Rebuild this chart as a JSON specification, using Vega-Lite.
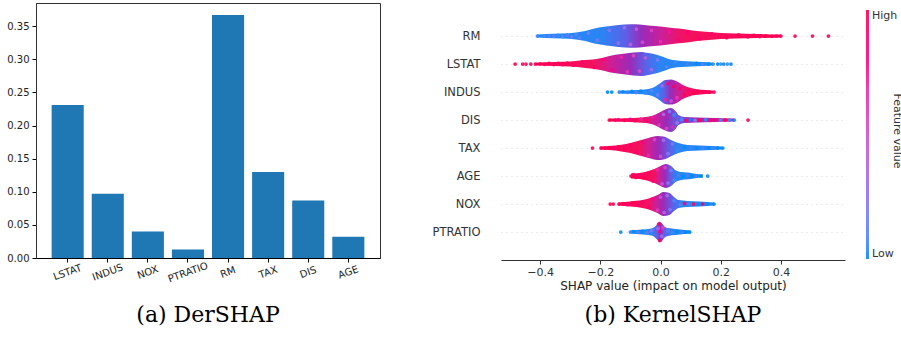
{
"$schema": "https://vega.github.io/schema/vega-lite/v6.json",
"background": "white",
"padding": {"left": 6, "top": 2, "right": 0, "bottom": 0},
"config": {
  "font": "DejaVu Sans",
  "axis": {"labelFont": "DejaVu Sans", "titleFont": "DejaVu Sans", "titleFontWeight": "normal"},
  "title": {"font": "DejaVu Serif", "fontSize": 22, "fontWeight": "normal", "color": "#000"},
  "concat": {"spacing": 51},
  "legend": {"labelFont": "DejaVu Sans", "titleFont": "DejaVu Sans"}
},
"datasets": {
  "bars": [
    {"feature": "LSTAT", "value": 0.231},
    {"feature": "INDUS", "value": 0.097},
    {"feature": "NOX", "value": 0.040},
    {"feature": "PTRATIO", "value": 0.013},
    {"feature": "RM", "value": 0.367},
    {"feature": "TAX", "value": 0.130},
    {"feature": "DIS", "value": 0.087},
    {"feature": "AGE", "value": 0.032}
  ],
  "area": [
    {"f":"RM","x":-0.41,"y":6.946,"y2":7.054},{"f":"RM","x":-0.38,"y":6.929,"y2":7.071},{"f":"RM","x":-0.33,"y":6.911,"y2":7.089},{"f":"RM","x":-0.28,"y":6.875,"y2":7.125},{"f":"RM","x":-0.25,"y":6.821,"y2":7.179},{"f":"RM","x":-0.22,"y":6.732,"y2":7.268},{"f":"RM","x":-0.18,"y":6.661,"y2":7.339},{"f":"RM","x":-0.14,"y":6.607,"y2":7.393},{"f":"RM","x":-0.10,"y":6.579,"y2":7.421},{"f":"RM","x":-0.07,"y":6.589,"y2":7.411},{"f":"RM","x":-0.04,"y":6.625,"y2":7.375},{"f":"RM","x":0.0,"y":6.661,"y2":7.339},{"f":"RM","x":0.04,"y":6.714,"y2":7.286},{"f":"RM","x":0.08,"y":6.757,"y2":7.243},{"f":"RM","x":0.12,"y":6.821,"y2":7.179},{"f":"RM","x":0.16,"y":6.857,"y2":7.143},{"f":"RM","x":0.20,"y":6.893,"y2":7.107},{"f":"RM","x":0.25,"y":6.911,"y2":7.089},{"f":"RM","x":0.32,"y":6.929,"y2":7.071},{"f":"RM","x":0.40,"y":6.946,"y2":7.054},
    {"f":"LSTAT","x":-0.416,"y":5.95,"y2":6.05},{"f":"LSTAT","x":-0.35,"y":5.93,"y2":6.07},{"f":"LSTAT","x":-0.30,"y":5.91,"y2":6.09},{"f":"LSTAT","x":-0.25,"y":5.86,"y2":6.14},{"f":"LSTAT","x":-0.20,"y":5.79,"y2":6.21},{"f":"LSTAT","x":-0.17,"y":5.71,"y2":6.29},{"f":"LSTAT","x":-0.13,"y":5.64,"y2":6.36},{"f":"LSTAT","x":-0.09,"y":5.59,"y2":6.41},{"f":"LSTAT","x":-0.065,"y":5.57,"y2":6.43},{"f":"LSTAT","x":-0.04,"y":5.61,"y2":6.39},{"f":"LSTAT","x":-0.01,"y":5.68,"y2":6.32},{"f":"LSTAT","x":0.02,"y":5.79,"y2":6.21},{"f":"LSTAT","x":0.04,"y":5.86,"y2":6.14},{"f":"LSTAT","x":0.07,"y":5.89,"y2":6.11},{"f":"LSTAT","x":0.10,"y":5.91,"y2":6.09},{"f":"LSTAT","x":0.14,"y":5.93,"y2":6.07},{"f":"LSTAT","x":0.175,"y":5.95,"y2":6.05},
    {"f":"INDUS","x":-0.14,"y":4.95,"y2":5.05},{"f":"INDUS","x":-0.08,"y":4.93,"y2":5.07},{"f":"INDUS","x":-0.04,"y":4.89,"y2":5.11},{"f":"INDUS","x":-0.02,"y":4.82,"y2":5.18},{"f":"INDUS","x":0.0,"y":4.68,"y2":5.32},{"f":"INDUS","x":0.015,"y":4.57,"y2":5.43},{"f":"INDUS","x":0.035,"y":4.55,"y2":5.45},{"f":"INDUS","x":0.055,"y":4.62,"y2":5.38},{"f":"INDUS","x":0.075,"y":4.75,"y2":5.25},{"f":"INDUS","x":0.095,"y":4.84,"y2":5.16},{"f":"INDUS","x":0.115,"y":4.89,"y2":5.11},{"f":"INDUS","x":0.15,"y":4.93,"y2":5.07},{"f":"INDUS","x":0.175,"y":4.95,"y2":5.05},
    {"f":"DIS","x":-0.17,"y":3.95,"y2":4.05},{"f":"DIS","x":-0.10,"y":3.93,"y2":4.07},{"f":"DIS","x":-0.05,"y":3.89,"y2":4.11},{"f":"DIS","x":-0.02,"y":3.82,"y2":4.18},{"f":"DIS","x":0.0,"y":3.71,"y2":4.29},{"f":"DIS","x":0.02,"y":3.61,"y2":4.39},{"f":"DIS","x":0.035,"y":3.57,"y2":4.43},{"f":"DIS","x":0.05,"y":3.68,"y2":4.32},{"f":"DIS","x":0.06,"y":3.82,"y2":4.18},{"f":"DIS","x":0.08,"y":3.89,"y2":4.11},{"f":"DIS","x":0.12,"y":3.91,"y2":4.09},{"f":"DIS","x":0.18,"y":3.93,"y2":4.07},{"f":"DIS","x":0.245,"y":3.95,"y2":4.05},
    {"f":"TAX","x":-0.20,"y":2.95,"y2":3.05},{"f":"TAX","x":-0.17,"y":2.93,"y2":3.07},{"f":"TAX","x":-0.13,"y":2.88,"y2":3.12},{"f":"TAX","x":-0.10,"y":2.82,"y2":3.18},{"f":"TAX","x":-0.07,"y":2.73,"y2":3.27},{"f":"TAX","x":-0.04,"y":2.64,"y2":3.36},{"f":"TAX","x":-0.01,"y":2.57,"y2":3.43},{"f":"TAX","x":0.01,"y":2.59,"y2":3.41},{"f":"TAX","x":0.035,"y":2.71,"y2":3.29},{"f":"TAX","x":0.06,"y":2.82,"y2":3.18},{"f":"TAX","x":0.09,"y":2.89,"y2":3.11},{"f":"TAX","x":0.13,"y":2.91,"y2":3.09},{"f":"TAX","x":0.17,"y":2.93,"y2":3.07},{"f":"TAX","x":0.205,"y":2.95,"y2":3.05},
    {"f":"AGE","x":-0.098,"y":1.91,"y2":2.09},{"f":"AGE","x":-0.07,"y":1.89,"y2":2.11},{"f":"AGE","x":-0.04,"y":1.82,"y2":2.18},{"f":"AGE","x":-0.02,"y":1.75,"y2":2.25},{"f":"AGE","x":0.0,"y":1.64,"y2":2.36},{"f":"AGE","x":0.018,"y":1.57,"y2":2.43},{"f":"AGE","x":0.035,"y":1.64,"y2":2.36},{"f":"AGE","x":0.05,"y":1.79,"y2":2.21},{"f":"AGE","x":0.07,"y":1.86,"y2":2.14},{"f":"AGE","x":0.10,"y":1.89,"y2":2.11},{"f":"AGE","x":0.12,"y":1.93,"y2":2.07},{"f":"AGE","x":0.14,"y":1.95,"y2":2.05},
    {"f":"NOX","x":-0.14,"y":0.95,"y2":1.05},{"f":"NOX","x":-0.10,"y":0.91,"y2":1.09},{"f":"NOX","x":-0.06,"y":0.86,"y2":1.14},{"f":"NOX","x":-0.03,"y":0.77,"y2":1.23},{"f":"NOX","x":-0.01,"y":0.68,"y2":1.32},{"f":"NOX","x":0.01,"y":0.57,"y2":1.43},{"f":"NOX","x":0.03,"y":0.61,"y2":1.39},{"f":"NOX","x":0.045,"y":0.75,"y2":1.25},{"f":"NOX","x":0.06,"y":0.86,"y2":1.14},{"f":"NOX","x":0.09,"y":0.89,"y2":1.11},{"f":"NOX","x":0.13,"y":0.91,"y2":1.09},{"f":"NOX","x":0.178,"y":0.95,"y2":1.05},
    {"f":"PTRATIO","x":-0.10,"y":-0.05,"y2":0.05},{"f":"PTRATIO","x":-0.06,"y":-0.09,"y2":0.09},{"f":"PTRATIO","x":-0.035,"y":-0.12,"y2":0.12},{"f":"PTRATIO","x":-0.02,"y":-0.18,"y2":0.18},{"f":"PTRATIO","x":-0.01,"y":-0.29,"y2":0.29},{"f":"PTRATIO","x":-0.004,"y":-0.37,"y2":0.37},{"f":"PTRATIO","x":0.004,"y":-0.32,"y2":0.32},{"f":"PTRATIO","x":0.012,"y":-0.21,"y2":0.21},{"f":"PTRATIO","x":0.025,"y":-0.14,"y2":0.14},{"f":"PTRATIO","x":0.05,"y":-0.11,"y2":0.11},{"f":"PTRATIO","x":0.08,"y":-0.07,"y2":0.07},{"f":"PTRATIO","x":0.10,"y":-0.05,"y2":0.05}
  ],
  "pts": [
    {"f":"RM","x":-0.409,"y":7.0,"v":0.05},{"f":"RM","x":-0.386,"y":7.0,"v":0.1},{"f":"RM","x":-0.37,"y":7.01,"v":0.08},{"f":"RM","x":-0.355,"y":6.99,"v":0.1},{"f":"RM","x":-0.34,"y":7.02,"v":0.05},{"f":"RM","x":-0.325,"y":6.98,"v":0.12},{"f":"RM","x":-0.31,"y":7.03,"v":0.1},{"f":"RM","x":-0.295,"y":6.97,"v":0.15},{"f":"RM","x":-0.28,"y":7.05,"v":0.1},{"f":"RM","x":-0.27,"y":6.93,"v":0.12},
    {"f":"RM","x":-0.24,"y":7.1,"v":0.15},{"f":"RM","x":-0.21,"y":6.85,"v":0.18},{"f":"RM","x":-0.17,"y":7.2,"v":0.2},{"f":"RM","x":-0.14,"y":6.75,"v":0.28},{"f":"RM","x":-0.12,"y":7.3,"v":0.3},{"f":"RM","x":-0.1,"y":6.7,"v":0.4},{"f":"RM","x":-0.08,"y":7.25,"v":0.45},{"f":"RM","x":-0.06,"y":6.78,"v":0.5},{"f":"RM","x":-0.03,"y":7.2,"v":0.58},{"f":"RM","x":0.0,"y":6.8,"v":0.65},{"f":"RM","x":0.03,"y":7.15,"v":0.75},{"f":"RM","x":0.06,"y":6.85,"v":0.82},{"f":"RM","x":0.09,"y":7.12,"v":0.88},{"f":"RM","x":0.13,"y":6.9,"v":0.92},{"f":"RM","x":0.17,"y":7.08,"v":0.95},{"f":"RM","x":0.22,"y":6.94,"v":0.97},
    {"f":"RM","x":0.26,"y":7.04,"v":1},{"f":"RM","x":0.29,"y":6.97,"v":0.97},{"f":"RM","x":0.31,"y":7.02,"v":1},{"f":"RM","x":0.33,"y":6.98,"v":0.95},{"f":"RM","x":0.35,"y":7.01,"v":1},{"f":"RM","x":0.37,"y":6.99,"v":0.98},{"f":"RM","x":0.385,"y":7.0,"v":1},{"f":"RM","x":0.4,"y":7.0,"v":1},{"f":"RM","x":0.447,"y":7.0,"v":1},{"f":"RM","x":0.505,"y":7.0,"v":1},{"f":"RM","x":0.558,"y":7.0,"v":1},
    {"f":"LSTAT","x":-0.483,"y":6,"v":1},{"f":"LSTAT","x":-0.458,"y":6,"v":1},{"f":"LSTAT","x":-0.447,"y":6,"v":0.95},{"f":"LSTAT","x":-0.431,"y":6,"v":1},{"f":"LSTAT","x":-0.416,"y":6,"v":0.95},{"f":"LSTAT","x":-0.4,"y":6.01,"v":1},{"f":"LSTAT","x":-0.385,"y":5.99,"v":0.97},{"f":"LSTAT","x":-0.37,"y":6.02,"v":1},{"f":"LSTAT","x":-0.355,"y":5.98,"v":0.95},{"f":"LSTAT","x":-0.34,"y":6.02,"v":1},{"f":"LSTAT","x":-0.325,"y":5.98,"v":0.92},{"f":"LSTAT","x":-0.31,"y":6.03,"v":1},{"f":"LSTAT","x":-0.29,"y":5.96,"v":0.95},
    {"f":"LSTAT","x":-0.26,"y":6.08,"v":0.9},{"f":"LSTAT","x":-0.22,"y":5.88,"v":0.92},{"f":"LSTAT","x":-0.19,"y":6.15,"v":0.85},{"f":"LSTAT","x":-0.16,"y":5.78,"v":0.8},{"f":"LSTAT","x":-0.13,"y":6.25,"v":0.7},{"f":"LSTAT","x":-0.11,"y":5.72,"v":0.62},{"f":"LSTAT","x":-0.09,"y":6.3,"v":0.55},{"f":"LSTAT","x":-0.07,"y":5.75,"v":0.5},{"f":"LSTAT","x":-0.05,"y":6.22,"v":0.4},{"f":"LSTAT","x":-0.03,"y":5.8,"v":0.3},{"f":"LSTAT","x":-0.01,"y":6.15,"v":0.2},{"f":"LSTAT","x":0.02,"y":5.9,"v":0.1},{"f":"LSTAT","x":0.05,"y":6.06,"v":0.05},
    {"f":"LSTAT","x":0.09,"y":5.98,"v":0.05},{"f":"LSTAT","x":0.12,"y":6.02,"v":0},{"f":"LSTAT","x":0.14,"y":6,"v":0.1},{"f":"LSTAT","x":0.16,"y":6,"v":0},{"f":"LSTAT","x":0.175,"y":6,"v":0.05},{"f":"LSTAT","x":0.19,"y":6,"v":0},{"f":"LSTAT","x":0.2,"y":6,"v":0.05},{"f":"LSTAT","x":0.21,"y":6,"v":0},{"f":"LSTAT","x":0.222,"y":6,"v":0.05},{"f":"LSTAT","x":0.234,"y":6,"v":0},
    {"f":"INDUS","x":-0.176,"y":5,"v":0},{"f":"INDUS","x":-0.162,"y":5,"v":0},{"f":"INDUS","x":-0.137,"y":5,"v":0.05},{"f":"INDUS","x":-0.125,"y":5.01,"v":0},{"f":"INDUS","x":-0.11,"y":4.99,"v":0.05},{"f":"INDUS","x":-0.095,"y":5.02,"v":0},{"f":"INDUS","x":-0.08,"y":4.98,"v":0.1},{"f":"INDUS","x":-0.065,"y":5.03,"v":0},{"f":"INDUS","x":-0.05,"y":4.97,"v":0.05},{"f":"INDUS","x":-0.03,"y":5.06,"v":0.1},
    {"f":"INDUS","x":-0.01,"y":4.9,"v":0.15},{"f":"INDUS","x":0.005,"y":5.22,"v":0.35},{"f":"INDUS","x":0.015,"y":4.72,"v":0.7},{"f":"INDUS","x":0.025,"y":5.3,"v":0.85},{"f":"INDUS","x":0.035,"y":4.68,"v":0.5},{"f":"INDUS","x":0.045,"y":5.2,"v":0.95},{"f":"INDUS","x":0.055,"y":4.8,"v":0.6},{"f":"INDUS","x":0.065,"y":5.12,"v":0.9},{"f":"INDUS","x":0.08,"y":4.9,"v":0.95},{"f":"INDUS","x":0.095,"y":5.05,"v":0.85},
    {"f":"INDUS","x":0.11,"y":4.97,"v":1},{"f":"INDUS","x":0.125,"y":5.02,"v":0.95},{"f":"INDUS","x":0.14,"y":5,"v":1},{"f":"INDUS","x":0.152,"y":5,"v":0.9},{"f":"INDUS","x":0.163,"y":5,"v":1},{"f":"INDUS","x":0.178,"y":5,"v":0.95},
    {"f":"DIS","x":-0.17,"y":4,"v":1},{"f":"DIS","x":-0.15,"y":4,"v":0.95},{"f":"DIS","x":-0.14,"y":4.01,"v":0.85},{"f":"DIS","x":-0.12,"y":3.99,"v":1},{"f":"DIS","x":-0.1,"y":4.02,"v":0.8},{"f":"DIS","x":-0.085,"y":3.98,"v":0.95},{"f":"DIS","x":-0.065,"y":4.03,"v":0.7},{"f":"DIS","x":-0.045,"y":3.96,"v":0.9},{"f":"DIS","x":-0.025,"y":4.08,"v":0.75},
    {"f":"DIS","x":-0.005,"y":3.82,"v":0.6},{"f":"DIS","x":0.01,"y":4.2,"v":0.4},{"f":"DIS","x":0.02,"y":3.7,"v":0.55},{"f":"DIS","x":0.03,"y":4.3,"v":0.2},{"f":"DIS","x":0.04,"y":3.75,"v":0.7},{"f":"DIS","x":0.045,"y":4.18,"v":0.05},{"f":"DIS","x":0.055,"y":3.9,"v":0.3},
    {"f":"DIS","x":0.07,"y":4.02,"v":0.1},{"f":"DIS","x":0.085,"y":3.98,"v":0.9},{"f":"DIS","x":0.1,"y":4.01,"v":0},{"f":"DIS","x":0.115,"y":3.99,"v":0.2},{"f":"DIS","x":0.13,"y":4,"v":1},{"f":"DIS","x":0.15,"y":4.01,"v":0.05},{"f":"DIS","x":0.165,"y":3.99,"v":0.9},{"f":"DIS","x":0.18,"y":4,"v":0.95},{"f":"DIS","x":0.2,"y":4,"v":0.1},{"f":"DIS","x":0.215,"y":4,"v":1},{"f":"DIS","x":0.23,"y":4,"v":0.05},{"f":"DIS","x":0.245,"y":4,"v":0},{"f":"DIS","x":0.291,"y":4,"v":1},
    {"f":"TAX","x":-0.226,"y":3,"v":1},{"f":"TAX","x":-0.198,"y":3,"v":1},{"f":"TAX","x":-0.185,"y":3,"v":0.95},{"f":"TAX","x":-0.17,"y":3.01,"v":1},{"f":"TAX","x":-0.155,"y":2.99,"v":0.9},{"f":"TAX","x":-0.14,"y":3.02,"v":1},{"f":"TAX","x":-0.12,"y":2.97,"v":0.95},
    {"f":"TAX","x":-0.1,"y":3.1,"v":0.92},{"f":"TAX","x":-0.08,"y":2.85,"v":0.88},{"f":"TAX","x":-0.06,"y":3.2,"v":0.8},{"f":"TAX","x":-0.04,"y":2.74,"v":0.7},{"f":"TAX","x":-0.02,"y":3.3,"v":0.55},{"f":"TAX","x":0.0,"y":2.7,"v":0.5},{"f":"TAX","x":0.01,"y":3.28,"v":0.3},{"f":"TAX","x":0.025,"y":2.8,"v":0.25},{"f":"TAX","x":0.04,"y":3.15,"v":0.15},{"f":"TAX","x":0.055,"y":2.9,"v":0.05},
    {"f":"TAX","x":0.08,"y":3.03,"v":0},{"f":"TAX","x":0.1,"y":2.98,"v":0.05},{"f":"TAX","x":0.12,"y":3,"v":0},{"f":"TAX","x":0.14,"y":3,"v":0.05},{"f":"TAX","x":0.16,"y":3,"v":0},{"f":"TAX","x":0.175,"y":3,"v":0.05},{"f":"TAX","x":0.19,"y":3,"v":0},{"f":"TAX","x":0.207,"y":3,"v":0},
    {"f":"AGE","x":-0.098,"y":2,"v":1},{"f":"AGE","x":-0.09,"y":2.05,"v":0.95},{"f":"AGE","x":-0.082,"y":1.95,"v":1},{"f":"AGE","x":-0.07,"y":2.03,"v":0.9},{"f":"AGE","x":-0.055,"y":1.93,"v":1},
    {"f":"AGE","x":-0.04,"y":2.1,"v":0.92},{"f":"AGE","x":-0.025,"y":1.82,"v":0.85},{"f":"AGE","x":-0.01,"y":2.22,"v":0.7},{"f":"AGE","x":0.005,"y":1.72,"v":0.45},{"f":"AGE","x":0.015,"y":2.3,"v":0.55},{"f":"AGE","x":0.025,"y":1.75,"v":0.25},{"f":"AGE","x":0.035,"y":2.2,"v":0.15},{"f":"AGE","x":0.045,"y":1.85,"v":0.1},
    {"f":"AGE","x":0.06,"y":2.04,"v":0.05},{"f":"AGE","x":0.075,"y":1.97,"v":0},{"f":"AGE","x":0.09,"y":2.02,"v":0.05},{"f":"AGE","x":0.105,"y":2,"v":0},{"f":"AGE","x":0.12,"y":2,"v":0.05},{"f":"AGE","x":0.135,"y":2,"v":0},{"f":"AGE","x":0.157,"y":2,"v":0},
    {"f":"NOX","x":-0.167,"y":1,"v":1},{"f":"NOX","x":-0.157,"y":1,"v":1},{"f":"NOX","x":-0.138,"y":1,"v":0.95},{"f":"NOX","x":-0.125,"y":1.01,"v":1},{"f":"NOX","x":-0.11,"y":0.98,"v":0.9},{"f":"NOX","x":-0.095,"y":1.03,"v":1},{"f":"NOX","x":-0.08,"y":0.96,"v":0.95},{"f":"NOX","x":-0.06,"y":1.06,"v":0.9},
    {"f":"NOX","x":-0.04,"y":0.9,"v":0.9},{"f":"NOX","x":-0.025,"y":1.18,"v":0.8},{"f":"NOX","x":-0.01,"y":0.78,"v":0.6},{"f":"NOX","x":0.0,"y":1.25,"v":0.5},{"f":"NOX","x":0.012,"y":0.7,"v":0.4},{"f":"NOX","x":0.022,"y":1.3,"v":0.3},{"f":"NOX","x":0.032,"y":0.8,"v":0.2},{"f":"NOX","x":0.045,"y":1.12,"v":0.1},
    {"f":"NOX","x":0.065,"y":0.98,"v":0.1},{"f":"NOX","x":0.08,"y":1.02,"v":0.9},{"f":"NOX","x":0.095,"y":1,"v":0.05},{"f":"NOX","x":0.11,"y":1,"v":0.95},{"f":"NOX","x":0.125,"y":1,"v":0},{"f":"NOX","x":0.14,"y":1,"v":0.9},{"f":"NOX","x":0.155,"y":1,"v":0},{"f":"NOX","x":0.178,"y":1,"v":0},
    {"f":"PTRATIO","x":-0.132,"y":0,"v":0},{"f":"PTRATIO","x":-0.1,"y":0,"v":0.05},{"f":"PTRATIO","x":-0.09,"y":0.01,"v":0},{"f":"PTRATIO","x":-0.075,"y":-0.01,"v":0.1},{"f":"PTRATIO","x":-0.06,"y":0.02,"v":0},{"f":"PTRATIO","x":-0.045,"y":-0.03,"v":0.1},{"f":"PTRATIO","x":-0.03,"y":0.05,"v":0.2},
    {"f":"PTRATIO","x":-0.006,"y":0.28,"v":0.9},{"f":"PTRATIO","x":-0.002,"y":-0.3,"v":0.95},{"f":"PTRATIO","x":-0.008,"y":0.12,"v":0.4},{"f":"PTRATIO","x":0.004,"y":-0.15,"v":0.3},{"f":"PTRATIO","x":-0.002,"y":0.02,"v":0.8},{"f":"PTRATIO","x":0.008,"y":0.15,"v":0.6},
    {"f":"PTRATIO","x":0.025,"y":0.04,"v":0.1},{"f":"PTRATIO","x":0.04,"y":-0.02,"v":0.05},{"f":"PTRATIO","x":0.055,"y":0.01,"v":0},{"f":"PTRATIO","x":0.07,"y":0,"v":0.05},{"f":"PTRATIO","x":0.085,"y":0,"v":0},{"f":"PTRATIO","x":0.097,"y":0,"v":0}
  ]
},
"hconcat": [
  {
    "width": 344,
    "height": 255,
    "view": {"stroke": "#333", "strokeWidth": 1},
    "title": {"text": "(a) DerSHAP", "orient": "bottom", "offset": 21, "anchor": "middle", "frame": "group"},
    "data": {"name": "bars"},
    "mark": {"type": "bar", "color": "#1f77b4"},
    "encoding": {
      "x": {"field": "feature", "type": "nominal", "sort": null,
        "scale": {"paddingInner": 0.2, "paddingOuter": 0.39},
        "axis": {"title": null, "labelAngle": -20, "labelAlign": "center", "labelBaseline": "middle", "labelPadding": 10, "labelFontSize": 10, "labelColor": "#222", "tickColor": "#000", "tickSize": 4, "domainColor": "#000"}},
      "y": {"field": "value", "type": "quantitative",
        "scale": {"domain": [0, 0.385], "nice": false},
        "axis": {"title": null, "values": [0, 0.05, 0.1, 0.15, 0.2, 0.25, 0.3, 0.35], "format": ".2f", "grid": false, "labelFontSize": 10, "labelColor": "#222", "tickColor": "#000", "tickSize": 4, "labelPadding": 3, "domainColor": "#333"}}
    }
  },
  {
    "width": 344,
    "height": 257,
    "view": {"stroke": null},
    "title": {"text": "(b) KernelSHAP", "orient": "bottom", "offset": 14, "anchor": "middle", "frame": "group"},
    "encoding": {
      "x": {"field": "x", "type": "quantitative",
        "scale": {"domain": [-0.53, 0.613], "nice": false, "zero": false},
        "axis": {"title": "SHAP value (impact on model output)", "values": [-0.4, -0.2, 0, 0.2, 0.4], "labelExpr": "replace(format(datum.value, '.1f'), '-', '−')", "grid": false, "labelFontSize": 11, "labelColor": "#333", "titleFontSize": 12, "titleColor": "#222", "titlePadding": 3, "tickColor": "#333", "tickSize": 4, "labelPadding": 2, "domainColor": "#333"}},
      "y": {"field": "y", "type": "quantitative",
        "scale": {"domain": [-1, 8.18], "nice": false, "zero": false},
        "axis": {"title": null, "values": [0, 1, 2, 3, 4, 5, 6, 7], "labelExpr": "['PTRATIO','NOX','AGE','TAX','DIS','INDUS','LSTAT','RM'][datum.value]", "domain": false, "ticks": false, "labelPadding": 21, "labelFontSize": 11.5, "labelColor": "#333", "grid": true, "gridColor": "#cccccc", "gridDash": [1, 4], "gridWidth": 0.8}}
    },
    "layer": [
      {"data": {"values": [{"k": 1}]}, "mark": {"type": "rule", "color": "#999999", "strokeWidth": 1},
       "encoding": {"x": {"datum": 0, "type": "quantitative"}, "y": {"datum": -1, "type": "quantitative"}, "y2": {"datum": 8}}},
      {"data": {"name": "area"}, "transform": [{"filter": "datum.f === 'RM'"}],
       "mark": {"type": "area", "orient": "vertical", "interpolate": "monotone", "color": {"gradient": "linear", "x1": 0, "y1": 0, "x2": 1, "y2": 0, "stops": [{"offset": 0, "color": "#1f88f6"}, {"offset": 0.26, "color": "#2a85f4"}, {"offset": 0.36, "color": "#5b62e8"}, {"offset": 0.43, "color": "#9a2bb8"}, {"offset": 0.51, "color": "#cc1f98"}, {"offset": 0.6, "color": "#f2125f"}, {"offset": 1, "color": "#ff0052"}]}},
       "encoding": {"y2": {"field": "y2"}}},
      {"data": {"name": "area"}, "transform": [{"filter": "datum.f === 'LSTAT'"}],
       "mark": {"type": "area", "orient": "vertical", "interpolate": "monotone", "color": {"gradient": "linear", "x1": 0, "y1": 0, "x2": 1, "y2": 0, "stops": [{"offset": 0, "color": "#ff0052"}, {"offset": 0.33, "color": "#f2125f"}, {"offset": 0.43, "color": "#cc1f98"}, {"offset": 0.535, "color": "#9a2bb8"}, {"offset": 0.62, "color": "#5b62e8"}, {"offset": 0.7, "color": "#2a85f4"}, {"offset": 1, "color": "#1f88f6"}]}},
       "encoding": {"y2": {"field": "y2"}}},
      {"data": {"name": "area"}, "transform": [{"filter": "datum.f === 'INDUS'"}],
       "mark": {"type": "area", "orient": "vertical", "interpolate": "monotone", "color": {"gradient": "linear", "x1": 0, "y1": 0, "x2": 1, "y2": 0, "stops": [{"offset": 0, "color": "#1f88f6"}, {"offset": 0.41, "color": "#2a85f4"}, {"offset": 0.48, "color": "#5b62e8"}, {"offset": 0.55, "color": "#9a2bb8"}, {"offset": 0.64, "color": "#cc1f98"}, {"offset": 0.73, "color": "#f2125f"}, {"offset": 1, "color": "#ff0052"}]}},
       "encoding": {"y2": {"field": "y2"}}},
      {"data": {"name": "area"}, "transform": [{"filter": "datum.f === 'DIS'"}],
       "mark": {"type": "area", "orient": "vertical", "interpolate": "monotone", "color": {"gradient": "linear", "x1": 0, "y1": 0, "x2": 1, "y2": 0, "stops": [{"offset": 0, "color": "#ff0052"}, {"offset": 0.25, "color": "#f2125f"}, {"offset": 0.36, "color": "#cc1f98"}, {"offset": 0.46, "color": "#9a2bb8"}, {"offset": 0.55, "color": "#5b62e8"}, {"offset": 0.65, "color": "#9a2bb8"}, {"offset": 1, "color": "#cc1f98"}]}},
       "encoding": {"y2": {"field": "y2"}}},
      {"data": {"name": "area"}, "transform": [{"filter": "datum.f === 'TAX'"}],
       "mark": {"type": "area", "orient": "vertical", "interpolate": "monotone", "color": {"gradient": "linear", "x1": 0, "y1": 0, "x2": 1, "y2": 0, "stops": [{"offset": 0, "color": "#ff0052"}, {"offset": 0.32, "color": "#f2125f"}, {"offset": 0.4, "color": "#cc1f98"}, {"offset": 0.48, "color": "#9a2bb8"}, {"offset": 0.57, "color": "#5b62e8"}, {"offset": 0.64, "color": "#2a85f4"}, {"offset": 1, "color": "#1f88f6"}]}},
       "encoding": {"y2": {"field": "y2"}}},
      {"data": {"name": "area"}, "transform": [{"filter": "datum.f === 'AGE'"}],
       "mark": {"type": "area", "orient": "vertical", "interpolate": "monotone", "color": {"gradient": "linear", "x1": 0, "y1": 0, "x2": 1, "y2": 0, "stops": [{"offset": 0, "color": "#ff0052"}, {"offset": 0.33, "color": "#f2125f"}, {"offset": 0.39, "color": "#cc1f98"}, {"offset": 0.475, "color": "#9a2bb8"}, {"offset": 0.56, "color": "#5b62e8"}, {"offset": 0.64, "color": "#2a85f4"}, {"offset": 1, "color": "#1f88f6"}]}},
       "encoding": {"y2": {"field": "y2"}}},
      {"data": {"name": "area"}, "transform": [{"filter": "datum.f === 'NOX'"}],
       "mark": {"type": "area", "orient": "vertical", "interpolate": "monotone", "color": {"gradient": "linear", "x1": 0, "y1": 0, "x2": 1, "y2": 0, "stops": [{"offset": 0, "color": "#ff0052"}, {"offset": 0.31, "color": "#f2125f"}, {"offset": 0.39, "color": "#cc1f98"}, {"offset": 0.47, "color": "#9a2bb8"}, {"offset": 0.57, "color": "#5b62e8"}, {"offset": 0.66, "color": "#2a85f4"}, {"offset": 1, "color": "#1f88f6"}]}},
       "encoding": {"y2": {"field": "y2"}}},
      {"data": {"name": "area"}, "transform": [{"filter": "datum.f === 'PTRATIO'"}],
       "mark": {"type": "area", "orient": "vertical", "interpolate": "monotone", "color": {"gradient": "linear", "x1": 0, "y1": 0, "x2": 1, "y2": 0, "stops": [{"offset": 0, "color": "#1f88f6"}, {"offset": 0.35, "color": "#2a85f4"}, {"offset": 0.44, "color": "#5b62e8"}, {"offset": 0.5, "color": "#9a2bb8"}, {"offset": 0.56, "color": "#5b62e8"}, {"offset": 0.7, "color": "#2a85f4"}, {"offset": 1, "color": "#1f88f6"}]}},
       "encoding": {"y2": {"field": "y2"}}},
      {"data": {"name": "pts"},
       "mark": {"type": "circle", "size": 14, "opacity": 0.9},
       "encoding": {
         "color": {"field": "v", "type": "quantitative",
           "scale": {"domain": [0, 1], "range": ["#008bfb", "#ff0052"], "interpolate": "hcl"},
           "legend": {"title": "Feature value", "orient": "right", "offset": 14, "padding": 7, "direction": "vertical", "gradientLength": 249, "gradientThickness": 3, "gradientStrokeWidth": 0, "values": [0, 1], "labelExpr": "datum.value >= 1 ? 'High' : 'Low'", "labelFontSize": 11, "labelColor": "#333", "labelOffset": 3, "labelBaseline": "middle", "titleOrient": "right", "titleAnchor": "middle", "titleFontSize": 11, "titleFontWeight": "normal", "titleColor": "#333", "titlePadding": -5,
             "encode": {"title": {"update": {"angle": {"value": -90}, "dy": {"value": 12}}}}}}
       }}
    ]
  }
]
}
